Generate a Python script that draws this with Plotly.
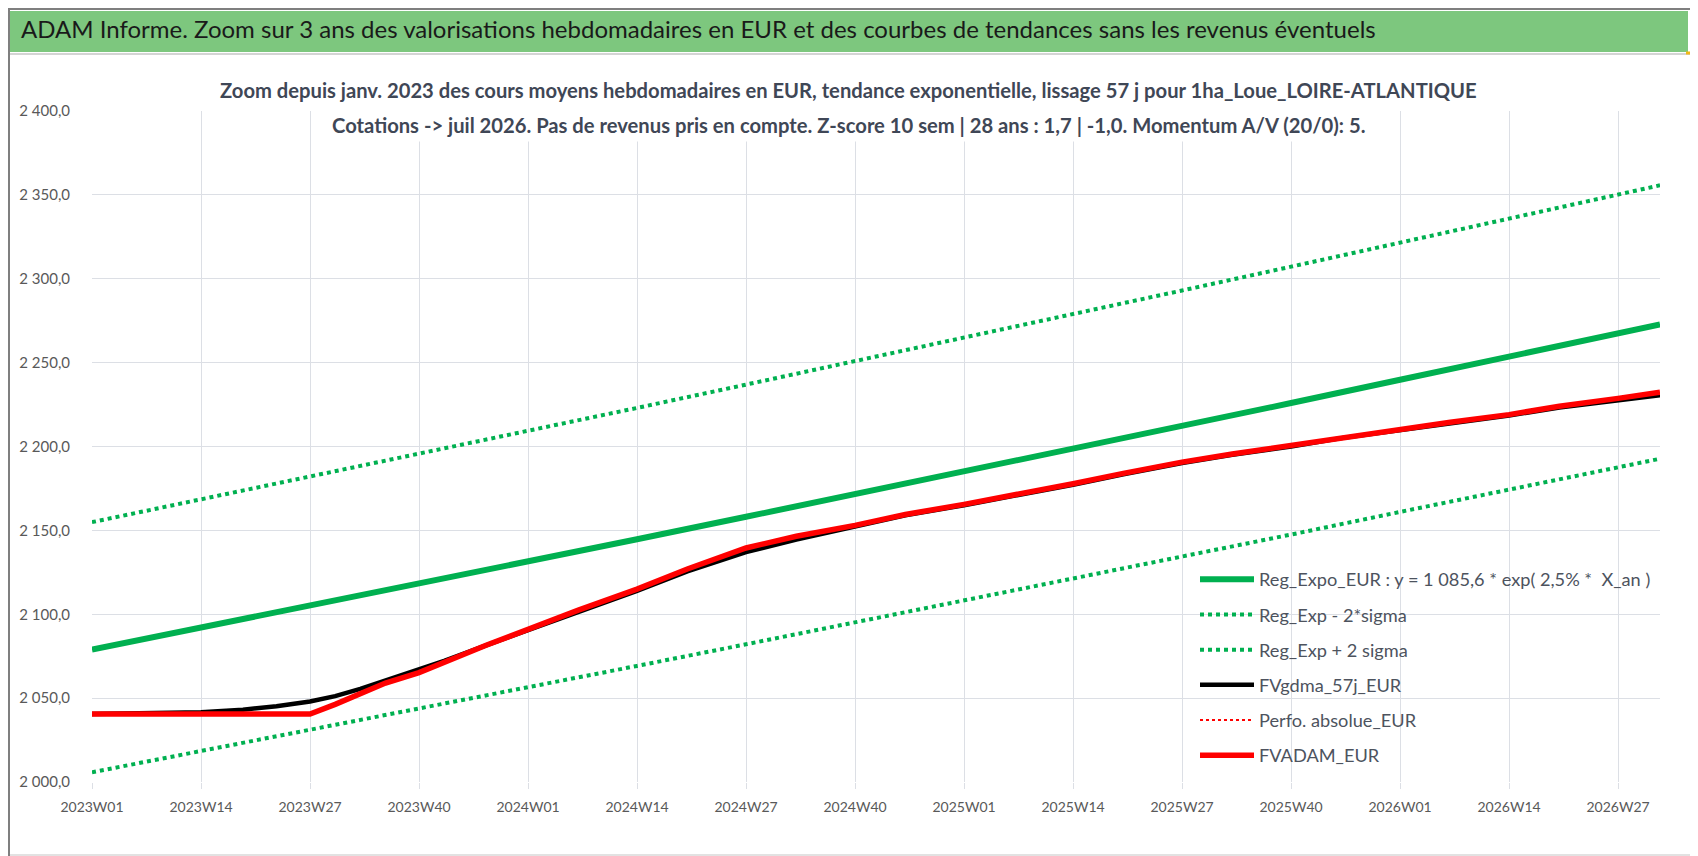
import plotly.graph_objects as go

# Weekly categories shown on the x axis (2023W01 .. 2026W32)
WEEKS = [f"{y}W{w:02d}" for y in (2023, 2024, 2025, 2026) for w in range(1, 53)][:188]

TICKS = ["2023W01", "2023W14", "2023W27", "2023W40",
         "2024W01", "2024W14", "2024W27", "2024W40",
         "2025W01", "2025W14", "2025W27", "2025W40",
         "2026W01", "2026W14", "2026W27"]

Y_TICKS = [2000, 2050, 2100, 2150, 2200, 2250, 2300, 2350, 2400]
Y_LABELS = ["2 000,0", "2 050,0", "2 100,0", "2 150,0", "2 200,0",
            "2 250,0", "2 300,0", "2 350,0", "2 400,0"]

# trend curves (read every 13 weeks + last week)
TREND_WEEKS = TICKS + ["2026W32"]
reg_expo = [2079.0, 2092.0, 2105.1, 2118.2, 2131.4, 2144.7, 2158.1, 2171.5,
            2185.0, 2198.6, 2212.2, 2225.9, 2239.8, 2253.5, 2267.4, 2272.7]
reg_minus = [2005.8, 2018.4, 2031.0, 2043.6, 2056.4, 2069.2, 2082.1, 2095.1,
             2108.1, 2121.2, 2134.3, 2147.5, 2161.0, 2174.2, 2187.6, 2192.7]
reg_plus = [2154.9, 2168.4, 2181.9, 2195.5, 2209.2, 2223.0, 2236.9, 2250.8,
            2264.8, 2278.9, 2293.0, 2307.2, 2321.6, 2335.8, 2350.2, 2355.7]

# valuations
LINE_WEEKS = ["2023W01", "2023W07", "2023W14", "2023W19", "2023W23", "2023W27",
              "2023W30", "2023W33", "2023W36", "2023W40", "2023W43", "2023W48",
              "2024W01", "2024W07", "2024W14", "2024W20", "2024W27", "2024W33",
              "2024W40", "2024W46", "2025W01", "2025W07", "2025W14", "2025W20",
              "2025W27", "2025W33", "2025W40", "2025W46", "2026W01", "2026W07",
              "2026W14", "2026W20", "2026W27", "2026W32"]
fvgdma = [2040.5, 2040.8, 2041.6, 2043.1, 2045.2, 2048.0, 2051.2, 2055.5, 2060.5,
          2066.5, 2072.2, 2081.5, 2090.5, 2102.0, 2114.0, 2125.5, 2137.0, 2144.5,
          2152.3, 2159.0, 2165.0, 2170.5, 2177.2, 2183.5, 2190.2, 2195.0, 2200.0,
          2205.0, 2209.5, 2214.0, 2218.5, 2223.2, 2227.6, 2230.6]
fvadam = [2040.5, 2040.5, 2040.5, 2040.5, 2040.5, 2040.5, 2046.3, 2052.6, 2059.0,
          2065.2, 2071.5, 2081.5, 2091.0, 2102.5, 2115.0, 2127.0, 2139.5, 2146.5,
          2153.0, 2159.5, 2165.5, 2171.0, 2177.8, 2184.0, 2190.7, 2195.5, 2200.6,
          2205.5, 2210.0, 2214.5, 2219.0, 2224.0, 2228.7, 2232.3]
perfo = fvadam

W, H = 1698, 856
L, R, T, B = 84, 46, 103, 82
PW, PH = W - L - R, H - T - B

FONT = "Lato, sans-serif"
GREEN = "#00b050"
GRID = "#dcdfe5"


def px(x):
    return (x - L) / PW


def py(y):
    return (H - B - y) / PH


def create_chart():
    fig = go.Figure()

    series = [
        ("Reg_Expo_EUR : y = 1 085,6 * exp( 2,5% *  X_an )", TREND_WEEKS, reg_expo,
         dict(color=GREEN, width=6)),
        ("Reg_Exp - 2*sigma", TREND_WEEKS, reg_minus, dict(color=GREEN, width=4, dash="dot")),
        ("Reg_Exp + 2 sigma", TREND_WEEKS, reg_plus, dict(color=GREEN, width=4, dash="dot")),
        ("FVgdma_57j_EUR", LINE_WEEKS, fvgdma, dict(color="#000000", width=4.5)),
        ("Perfo. absolue_EUR", LINE_WEEKS, perfo, dict(color="#ff0000", width=2, dash="dot")),
        ("FVADAM_EUR", LINE_WEEKS, fvadam, dict(color="#ff0000", width=5.5)),
    ]
    for name, xs, ys, line in series:
        fig.add_trace(go.Scatter(x=xs, y=ys, name=name, mode="lines", line=line,
                                 legendgroup=name))

    shapes = [
        # title band
        dict(type="rect", xref="paper", yref="paper", x0=px(2), x1=px(1680),
             y0=py(44), y1=py(3), fillcolor="#7dc77e", line=dict(width=0), layer="below"),
        dict(type="line", xref="paper", yref="paper", x0=px(0), x1=px(1690),
             y0=py(46), y1=py(46), line=dict(color="#d4d4d4", width=2)),
        dict(type="line", xref="paper", yref="paper", x0=px(0), x1=px(1690),
             y0=py(847), y1=py(847), line=dict(color="#e2e2e2", width=2)),
        # outer frame
        dict(type="rect", xref="paper", yref="paper", x0=px(1), x1=px(W - 1),
             y0=py(H - 1), y1=py(1), line=dict(color="#7f7f7f", width=2)),
        # selection marks
        dict(type="line", xref="paper", yref="paper", x0=px(0), x1=px(18),
             y0=py(850), y1=py(850), line=dict(color="#f2b817", width=3)),
        dict(type="line", xref="paper", yref="paper", x0=px(654), x1=px(780),
             y0=py(851), y1=py(851), line=dict(color="#f7d46a", width=2)),
        dict(type="path", xref="paper", yref="paper",
             path=f"M{px(1678)},{py(45)} L{px(1693)},{py(45)} L{px(1693)},{py(57)}",
             line=dict(color="#f2b817", width=3)),
        dict(type="path", xref="paper", yref="paper",
             path=f"M{px(1693)},{py(817)} L{px(1693)},{py(850)} L{px(1679)},{py(850)}",
             line=dict(color="#f2b817", width=3)),
    ]

    annotations = [
        dict(text="ADAM Informe. Zoom sur 3 ans des valorisations hebdomadaires en EUR "
                  "et des courbes de tendances sans les revenus éventuels",
             xref="paper", yref="paper", x=px(11), y=py(21), xanchor="left", yanchor="middle",
             showarrow=False, font=dict(family=FONT, size=24, color="#1a1a1a")),
        dict(text="Zoom depuis janv. 2023 des cours moyens hebdomadaires en EUR, tendance "
                  "exponentielle, lissage 57 j pour 1ha_Loue_LOIRE-ATLANTIQUE",
             xref="paper", yref="paper", x=px(840), y=py(82), xanchor="center", yanchor="middle",
             showarrow=False, bgcolor="white", borderpad=4,
             font=dict(family=FONT, size=20.2, color="#3f4756", weight="bold")),
        dict(text="Cotations -> juil 2026. Pas de revenus pris en compte. Z-score 10 sem | "
                  "28 ans : 1,7 | -1,0. Momentum A/V (20/0): 5.",
             xref="paper", yref="paper", x=px(840), y=py(117), xanchor="center", yanchor="middle",
             showarrow=False, bgcolor="white", borderpad=4,
             font=dict(family=FONT, size=20.2, color="#3f4756", weight="bold")),
    ]

    fig.update_layout(
        width=W, height=H,
        margin=dict(l=L, r=R, t=T, b=B),
        paper_bgcolor="white", plot_bgcolor="white",
        font=dict(family=FONT, color="#595959"),
        shapes=shapes, annotations=annotations,
        showlegend=True,
        legend=dict(x=px(1187), y=py(553), xanchor="left", yanchor="top",
                    bgcolor="rgba(0,0,0,0)", font=dict(family=FONT, size=18.2, color="#4d535e"),
                    tracegroupgap=8.5, itemwidth=54),
        xaxis=dict(type="category", categoryorder="array", categoryarray=WEEKS,
                   range=[0, len(WEEKS) - 1], tickmode="array", tickvals=TICKS, ticktext=TICKS,
                   showgrid=True, gridcolor=GRID, gridwidth=1.3, ticks="outside", ticklen=6,
                   tickcolor=GRID, tickfont=dict(size=14, color="#595959"),
                   ticklabelstandoff=6, zeroline=False, showline=False),
        yaxis=dict(range=[2000, 2400], tickmode="array", tickvals=Y_TICKS, ticktext=Y_LABELS,
                   showgrid=True, gridcolor=GRID, gridwidth=1.3, zeroline=False, showline=False,
                   tickfont=dict(size=15, color="#595959"), ticklabelstandoff=21),
    )

    return fig


if __name__ == "__main__":
    fig = create_chart()
    fig.write_html("out.html")
